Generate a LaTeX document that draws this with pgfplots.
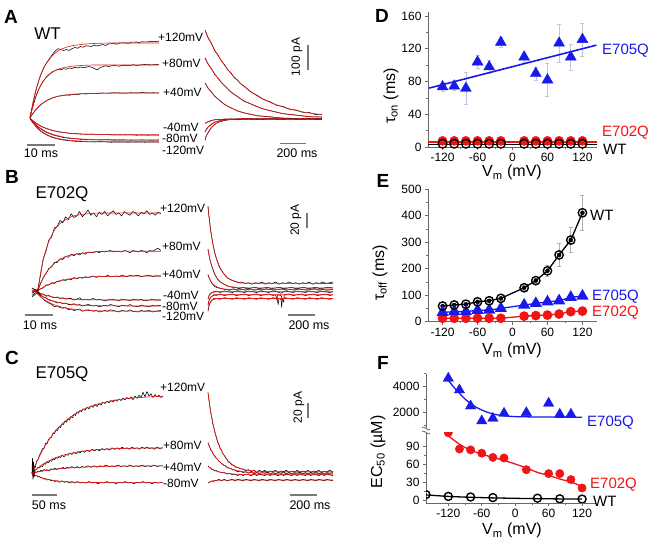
\documentclass[border=0pt]{standalone}
\usepackage{fontspec}
\setmainfont{Liberation Sans}
\usepackage{pgfplots}
\pgfplotsset{compat=1.18}
\definecolor{mred}{RGB}{240,20,20}
\definecolor{mblue}{RGB}{25,25,235}
\definecolor{axgray}{RGB}{105,105,105}
\definecolor{barg}{RGB}{120,120,120}
\definecolor{errd}{RGB}{195,195,225}
\definecolor{erre}{RGB}{175,175,175}
\newcommand\fs[1]{\fontsize{#1}{#1}\selectfont}
\pgfplotsset{
 trace/.style={hide axis, scale only axis, clip=false, anchor=south west},
 blk/.style={black, line width=0.55pt, line join=round},
 fit/.style={mred, line width=0.6pt, smooth},
 dax/.style={scale only axis, anchor=south west,
   axis line style={axgray, line width=0.8pt, -}, tick align=outside,
   major tick length=3pt, minor tick length=1.8pt,
   tick style={axgray, line width=0.8pt},
   tick label style={font=\fs{12}},
   /pgf/number format/assume math mode=true, /pgf/number format/1000 sep={},
   scaled ticks=false, clip=false,
   minor y tick num=1},
 dxy/.style={dax, axis lines*=left, xtick={-120,-60,0,60,120}, minor x tick num=1},
}
\begin{document}
\begin{tikzpicture}[x=1pt,y=1pt]
\useasboundingbox (0,0) rectangle (657,546);

% ===================== Panel A =====================
\begin{axis}[trace, at={(24.4pt,398pt)}, width=140pt, height=120pt, xmin=-2, xmax=48, ymin=-120, ymax=360]
\addplot[blk] coordinates {(0,2) (1,55) (2,105) (3,145) (4,178) (5,203) (6,222) (7,238) (8,254) (9,268) (10,277) (11,274) (12,270) (13,274) (14,270) (15,277) (16,282) (17,279) (18,286) (19,283) (20,289) (22,286) (23,292) (24,288) (26,294) (27,290) (28,296) (30,298) (31,295) (32,300) (34,301) (35,298) (36,303) (38,304) (39,301) (40,305) (42,304) (43,307) (44,305) (46,307)};
\addplot[fit] coordinates {(0,0) (1,60) (2,108) (3,146) (4,177) (5,201) (6,221) (8,249) (10,268) (12,279) (15,289) (20,296) (25,299) (30,300) (46,300)};
\addplot[blk] coordinates {(0,3) (1,45) (2,82) (3,112) (4,135) (5,152) (6,166) (7,176) (8,185) (9,190) (10,194) (11,193) (12,197) (13,195) (14,200) (15,198) (16,203) (17,200) (18,204) (19,201) (20,203) (21,206) (22,203) (23,198) (24,192) (25,201) (27,209) (28,206) (30,210) (32,207) (33,211) (35,209) (37,213) (38,210) (40,213) (42,215) (43,212) (45,214) (46,213)};
\addplot[fit] coordinates {(0,0) (1,47) (2,83) (3,112) (4,134) (5,151) (6,165) (8,183) (10,195) (12,201) (15,207) (20,211) (25,212) (46,212)};
\addplot[blk] coordinates {(0,2) (1,17) (2,32) (3,44) (4,55) (5,62) (6,70) (7,75) (8,80) (9,84) (10,87) (12,90) (13,92) (14,91) (16,95) (17,93) (18,97) (20,96) (22,99) (24,98) (26,100) (28,99) (30,101) (32,100) (34,99) (36,101) (38,100) (40,102) (42,100) (44,101) (46,100)};
\addplot[fit] coordinates {(0,0) (1,18) (2,33) (3,45) (4,55) (5,63) (6,70) (8,80) (10,87) (12,91) (15,95) (20,98) (25,99) (30,100) (46,100)};
\addplot[blk] coordinates {(0,-2) (1,-11) (2,-20) (3,-27) (4,-34) (5,-38) (6,-43) (8,-50) (10,-55) (12,-58) (14,-61) (16,-62) (18,-64) (20,-65) (22,-64) (24,-66) (26,-67) (28,-66) (30,-68) (32,-67) (34,-68) (36,-67) (38,-69) (40,-68) (42,-69) (44,-68) (46,-69)};
\addplot[fit] coordinates {(0,0) (1,-10) (2,-19) (3,-26) (4,-33) (5,-38) (6,-42) (8,-49) (10,-54) (12,-58) (15,-62) (20,-65) (25,-66) (30,-67) (46,-67)};
\addplot[blk] coordinates {(0,-3) (1,-15) (2,-27) (3,-37) (4,-45) (5,-52) (6,-58) (8,-67) (10,-73) (12,-78) (14,-81) (16,-83) (18,-85) (20,-86) (22,-87) (25,-88) (28,-87) (30,-89) (33,-88) (36,-89) (40,-88) (43,-89) (46,-88)};
\addplot[fit] coordinates {(0,0) (1,-14) (2,-25) (3,-35) (4,-43) (5,-50) (6,-56) (8,-65) (10,-71) (12,-76) (15,-81) (20,-85) (25,-87) (30,-87) (46,-88)};
\addplot[blk] coordinates {(0,-3) (1,-19) (2,-33) (3,-45) (4,-54) (5,-62) (6,-68) (8,-78) (10,-84) (12,-88) (14,-91) (16,-93) (18,-94) (20,-95) (23,-96) (26,-95) (29,-97) (32,-96) (35,-97) (38,-96) (41,-97) (44,-96) (46,-97)};
\addplot[fit] coordinates {(0,0) (1,-17) (2,-31) (3,-43) (4,-52) (5,-60) (6,-66) (8,-76) (10,-82) (12,-86) (15,-90) (20,-93) (25,-94) (30,-95) (46,-95)};
\end{axis}
\begin{axis}[trace, at={(205pt,398pt)}, width=117pt, height=120pt, xmin=0, xmax=900, ymin=-120, ymax=360]
\addplot[blk] coordinates {(0,352) (25,318) (50,299) (75,268) (100,253) (125,228) (150,214) (175,192) (200,181) (225,161) (250,152) (275,136) (300,128) (350,105) (400,91) (450,74) (500,65) (550,51) (600,46) (650,35) (700,32) (750,23) (800,22) (850,14) (900,15)};
\addplot[fit] coordinates {(0,350) (25,322) (50,296) (75,272) (100,250) (150,211) (200,178) (250,150) (300,126) (400,89) (500,63) (600,44) (700,30) (800,20) (900,14)};
\addplot[blk] coordinates {(0,241) (25,214) (50,197) (75,174) (100,160) (125,142) (150,130) (200,103) (250,86) (300,67) (350,57) (400,46) (450,36) (500,30) (600,17) (700,12) (800,5) (900,4)};
\addplot[fit] coordinates {(0,239) (25,216) (50,195) (75,176) (100,159) (150,129) (200,105) (250,85) (300,69) (400,45) (500,29) (600,18) (700,11) (800,6) (900,3)};
\addplot[blk] coordinates {(0,140) (25,118) (50,104) (75,87) (100,76) (150,54) (200,41) (250,28) (300,21) (400,9) (500,5) (600,-1) (700,-2) (800,-4) (900,-3)};
\addplot[fit] coordinates {(0,139) (25,119) (50,103) (75,88) (100,75) (150,55) (200,40) (250,29) (300,20) (400,10) (500,4) (600,0) (700,-2) (800,-3) (900,-3)};
\addplot[blk] coordinates {(0,-22) (10,-18) (25,-15) (50,-10) (75,-7) (100,-6) (150,-5) (200,-4) (250,-5) (300,-3) (350,-4) (400,-5) (450,-3) (500,-4) (550,-5) (600,-3) (650,-4) (700,-5) (750,-3) (800,-4) (850,-5) (900,-4)};
\addplot[fit] coordinates {(0,-21) (10,-18) (25,-14) (50,-10) (75,-7) (100,-6) (150,-5) (200,-4) (900,-4)};
\addplot[blk] coordinates {(0,-56) (10,-46) (25,-35) (50,-26) (75,-16) (100,-13) (150,-6) (200,-5) (250,-6) (300,-3) (350,-5) (400,-4) (450,-5) (500,-3) (550,-4) (600,-5) (650,-3) (700,-4) (750,-5) (800,-3) (850,-4) (900,-5)};
\addplot[fit] coordinates {(0,-55) (10,-46) (25,-36) (50,-25) (75,-17) (100,-12) (150,-7) (200,-5) (250,-5) (300,-4) (900,-4)};
\addplot[blk] coordinates {(0,-89) (10,-71) (25,-58) (50,-37) (75,-26) (100,-17) (150,-10) (200,-6) (250,-4) (300,-5) (350,-3) (400,-4) (450,-5) (500,-3) (550,-4) (600,-5) (650,-3) (700,-4) (750,-5) (800,-3) (850,-4) (900,-4)};
\addplot[fit] coordinates {(0,-88) (10,-72) (25,-57) (50,-38) (75,-25) (100,-18) (150,-9) (200,-6) (250,-5) (300,-4) (900,-4)};
\end{axis}
\node[font=\fs{17}] at (47.5,512) {WT};
\begin{scope}[font=\fs{12}, inner sep=0pt]
\node[anchor=west] at (158,509) {+120mV};
\node[anchor=west] at (162,483) {+80mV};
\node[anchor=west] at (163,454) {+40mV};
\node[anchor=west] at (163,419) {-40mV};
\node[anchor=west] at (162,408) {-80mV};
\node[anchor=west] at (162,396) {-120mV};
\end{scope}
\draw[barg, line width=1.2pt] (27,401) -- (55,401);
\node[font=\fs{12.5}] at (41,393) {10 ms};
\draw[barg, line width=1.2pt] (280,402.5) -- (306,402.5);
\node[font=\fs{12.5}] at (297,392.5) {200 ms};
\draw[barg, line width=1.2pt] (308,501) -- (308,476);
\node[font=\fs{12}, rotate=90] at (297,489) {100 pA};

% ===================== Panel B =====================
\begin{axis}[trace, at={(26.4pt,225pt)}, width=140pt, height=120pt, xmin=-2, xmax=48, ymin=-40, ymax=120]
\addplot[blk] coordinates {(0,4) (1,2) (2,1) (3,20) (4,43) (5,53) (6,68) (7,72) (8,84) (9,86) (10,94) (11,91) (12,99) (13,95) (14,103) (15,98) (16,100) (17,106) (18,99) (19,103) (20,108) (21,101) (22,104) (23,99) (24,105) (25,102) (26,106) (27,100) (28,104) (29,107) (30,102) (31,104) (32,100) (33,106) (34,103) (35,101) (36,106) (37,104) (38,100) (39,105) (40,103) (41,107) (42,102) (43,104) (44,101) (45,105) (46,103)};
\addplot[fit] coordinates {(0,0) (2,0) (3,23) (4,41) (5,55) (6,66) (7,74) (8,81) (9,86) (10,90) (12,95) (14,99) (16,101) (20,103) (25,104) (46,104)};
\addplot[blk] coordinates {(0,-2) (1,1) (2,1) (3,9) (4,18) (5,23) (6,30) (7,32) (8,38) (9,38) (10,43) (11,42) (12,46) (13,45) (14,49) (15,47) (16,50) (17,48) (18,51) (19,49) (20,52) (22,51) (23,53) (24,51) (25,53) (26,52) (28,54) (29,52) (30,53) (32,52) (33,54) (34,53) (35,51) (36,54) (38,52) (39,54) (40,53) (41,51) (42,54) (43,53) (44,55) (45,57) (46,54)};
\addplot[fit] coordinates {(0,0) (2,0) (3,10) (4,17) (5,24) (6,29) (7,33) (8,37) (10,42) (12,46) (14,48) (17,50) (22,52) (27,53) (46,53)};
\addplot[blk] coordinates {(0,3) (1,2) (2,0) (3,3) (4,4) (5,8) (6,8) (7,11) (8,10) (9,13) (10,13) (11,15) (12,14) (13,16) (14,15) (15,18) (16,16) (17,18) (18,17) (19,19) (20,18) (22,20) (23,18) (24,20) (26,19) (27,21) (28,19) (30,20) (31,19) (32,21) (34,19) (35,21) (36,20) (38,21) (39,19) (40,20) (42,21) (43,19) (44,20) (46,20)};
\addplot[fit] coordinates {(0,0) (2,0) (3,2.7) (4,5) (5,7) (6,8.7) (7,10.2) (8,11.5) (10,13.6) (12,15.2) (14,16.4) (17,17.7) (22,18.9) (27,19.4) (32,19.7) (46,20)};
\addplot[blk] coordinates {(0,-3) (1,-1) (2,0) (3,-4) (4,-4) (5,-7) (6,-6) (7,-8) (8,-9) (9,-8) (10,-10) (11,-9) (12,-11) (13,-10) (14,-10) (15,-12) (16,-11) (17,-9) (18,-12) (19,-11) (20,-12) (22,-10) (23,-12) (24,-11) (26,-13) (27,-12) (28,-11) (30,-12) (31,-13) (32,-11) (34,-12) (35,-13) (36,-11) (38,-12) (39,-11) (40,-13) (42,-12) (43,-11) (44,-12) (46,-12)};
\addplot[fit] coordinates {(0,0) (1,0) (2,-1.8) (3,-3.4) (4,-4.7) (5,-5.8) (7,-7.6) (9,-8.9) (11,-9.8) (14,-10.7) (18,-11.4) (23,-11.8) (30,-12) (46,-12)};
\addplot[blk] coordinates {(0,-6) (1,-3) (2,-1) (3,-5) (4,-8) (5,-9) (6,-12) (7,-13) (8,-14) (9,-16) (10,-15) (11,-17) (12,-16) (13,-18) (14,-18) (15,-17) (16,-19) (17,-18) (18,-20) (19,-19) (20,-18) (22,-20) (23,-19) (24,-21) (26,-19) (27,-20) (28,-18) (30,-20) (31,-21) (32,-19) (34,-20) (35,-18) (36,-20) (38,-21) (39,-19) (40,-20) (42,-21) (43,-19) (44,-20) (46,-19)};
\addplot[fit] coordinates {(0,0) (1,0) (2,-3.1) (3,-5.7) (4,-7.9) (5,-9.7) (7,-12.6) (9,-14.7) (11,-16.2) (14,-17.8) (18,-18.9) (23,-19.6) (30,-19.9) (46,-20)};
\addplot[blk] coordinates {(0,-8) (1,-5) (2,-2) (3,-7) (4,-11) (5,-14) (6,-16) (7,-18) (8,-21) (9,-20) (10,-22) (11,-23) (12,-22) (13,-25) (14,-24) (15,-26) (16,-25) (17,-24) (18,-27) (19,-26) (20,-25) (22,-27) (23,-26) (24,-28) (26,-26) (27,-27) (28,-25) (30,-27) (31,-28) (32,-26) (34,-27) (35,-25) (36,-27) (38,-28) (39,-26) (40,-27) (42,-26) (43,-28) (44,-27) (46,-26)};
\addplot[fit] coordinates {(0,0) (1,0) (2,-4.2) (3,-7.6) (4,-10.6) (5,-13.1) (7,-17) (9,-19.8) (11,-21.8) (14,-24) (18,-25.5) (23,-26.4) (30,-26.8) (46,-27)};
\end{axis}
\begin{axis}[trace, at={(208pt,225pt)}, width=125pt, height=120pt, xmin=0, xmax=925, ymin=-40, ymax=120]
\addplot[blk] coordinates {(0,113) (5,103) (10,96) (15,87) (20,80) (25,75) (30,70) (35,64) (40,60) (50,51) (60,45) (70,39) (80,35) (90,30) (100,28) (115,23) (130,21) (145,17) (160,16) (180,14) (200,13) (225,11) (250,12) (275,10) (300,11) (325,9) (350,11) (375,10) (400,12) (425,9) (450,11) (475,10) (500,12) (525,9) (550,11) (575,10) (600,12) (625,10) (650,11) (675,9) (700,11) (725,10) (750,12) (775,9) (800,11) (825,10) (850,12) (875,10) (900,11) (925,12)};
\addplot[fit] coordinates {(0,112) (10,95) (20,81) (30,69) (40,59) (60,44) (80,34) (100,27) (130,20) (160,15.6) (200,12.7) (250,11) (300,10.4) (925,10)};
\addplot[blk] coordinates {(0,56) (5,50) (10,46) (15,41) (20,38) (25,35) (30,32) (40,27) (50,22) (60,19) (70,16) (80,14) (90,12) (100,11) (120,9) (140,7) (160,6) (180,5) (200,5) (230,3) (260,5) (290,3) (320,4) (350,5) (380,3) (410,4) (440,5) (470,3) (500,4) (530,5) (560,3) (590,4) (620,5) (650,3) (680,4) (710,5) (740,3) (770,4) (800,5) (830,3) (860,4) (890,5) (925,4)};
\addplot[fit] coordinates {(0,55) (10,46) (20,38) (30,32) (40,27) (60,19) (80,14) (100,11) (130,8) (160,6) (200,5) (250,4.3) (925,4)};
\addplot[blk] coordinates {(0,22) (5,19) (10,17) (20,13) (30,10) (40,8) (50,6) (60,5) (80,4) (100,3) (130,2) (160,1) (190,3) (220,1) (250,2) (280,1) (310,3) (340,1) (370,2) (400,1) (430,3) (460,2) (490,1) (520,2) (550,3) (580,1) (610,2) (640,1) (670,3) (700,2) (730,1) (760,2) (790,3) (820,1) (850,2) (880,1) (925,2)};
\addplot[fit] coordinates {(0,21) (10,16.6) (20,13.3) (30,10.8) (40,8.8) (60,6.0) (80,4.4) (100,3.4) (130,2.5) (160,2.1) (200,1.9) (925,1.8)};
\addplot[blk] coordinates {(0,-11) (5,-8) (10,-5) (20,-3) (30,-2) (45,-1) (60,0) (90,-2) (120,0) (150,-1) (180,-2) (210,0) (240,-1) (270,-2) (300,0) (330,-1) (360,-2) (390,0) (420,-1) (450,-2) (480,0) (510,-1) (540,-3) (570,0) (600,-1) (630,-2) (660,0) (690,-1) (720,-2) (750,0) (780,-1) (810,-2) (840,0) (870,-1) (900,-2) (925,-1)};
\addplot[fit] coordinates {(0,-10) (5,-7.5) (10,-5.6) (20,-3.4) (30,-2.2) (45,-1.5) (60,-1.2) (100,-1) (925,-1)};
\addplot[blk] coordinates {(0,-19) (5,-15) (10,-12) (20,-8) (30,-7) (45,-5) (60,-6) (90,-4) (120,-6) (150,-5) (180,-4) (210,-6) (240,-5) (270,-4) (300,-6) (330,-5) (360,-4) (390,-6) (420,-5) (450,-4) (480,-6) (500,-5) (510,-12) (515,-5) (540,-6) (560,-15) (565,-5) (600,-4) (630,-6) (660,-5) (690,-4) (720,-6) (750,-5) (780,-4) (810,-6) (840,-5) (870,-4) (900,-6) (925,-5)};
\addplot[fit] coordinates {(0,-18) (5,-14.3) (10,-11.7) (20,-8.4) (30,-6.8) (45,-5.6) (60,-5.2) (100,-5) (925,-5)};
\addplot[blk] coordinates {(0,-27) (5,-22) (10,-18) (20,-14) (30,-12) (45,-11) (60,-10) (90,-11) (120,-9) (150,-10) (180,-11) (210,-9) (240,-10) (270,-11) (300,-9) (330,-10) (360,-11) (390,-9) (420,-10) (450,-11) (480,-9) (510,-10) (520,-18) (525,-10) (540,-11) (545,-22) (550,-10) (570,-9) (600,-10) (630,-11) (660,-9) (690,-10) (720,-11) (750,-9) (780,-10) (810,-11) (840,-9) (870,-10) (900,-11) (925,-10)};
\addplot[fit] coordinates {(0,-26) (5,-21.5) (10,-18.2) (20,-14.2) (30,-12.2) (45,-10.8) (60,-10.3) (100,-10) (925,-10)};
\end{axis}
\node[font=\fs{17}] at (62,352) {E702Q};
\begin{scope}[font=\fs{12}, inner sep=0pt]
\node[anchor=west] at (160,338) {+120mV};
\node[anchor=west] at (162,299.3) {+80mV};
\node[anchor=west] at (162,272) {+40mV};
\node[anchor=west] at (163,251) {-40mV};
\node[anchor=west] at (162,240) {-80mV};
\node[anchor=west] at (162,229.3) {-120mV};
\end{scope}
\draw[barg, line width=1.2pt] (25,231) -- (53,231);
\node[font=\fs{12.5}] at (40,221) {10 ms};
\draw[barg, line width=1.2pt] (288,231) -- (315,231);
\node[font=\fs{12.5}] at (309,221) {200 ms};
\draw[barg, line width=1.2pt] (307,333) -- (307,318);
\node[font=\fs{12}, rotate=90] at (296,326) {20 pA};

% ===================== Panel C =====================
\begin{axis}[trace, at={(27pt,50.2pt)}, width=140pt, height=112.5pt, xmin=-10, xmax=270, ymin=-30, ymax=120]
\addplot[blk] coordinates {(0,0) (1,20) (2,-8) (3,15) (4,-5) (5,10) (7,8) (9,16) (12,18) (15,24) (18,28) (21,33) (24,33) (27,40) (30,39) (33,45) (36,47) (39,48) (42,54) (45,53) (48,58) (51,57) (54,62) (57,61) (60,66) (63,65) (66,70) (69,68) (72,73) (75,71) (78,76) (81,74) (84,79) (87,77) (90,82) (93,80) (96,84) (99,82) (102,86) (106,84) (110,88) (114,86) (118,90) (122,88) (126,92) (130,89) (134,93) (138,91) (142,95) (146,93) (150,96) (154,94) (158,97) (162,95) (166,98) (170,96) (174,99) (178,97) (182,100) (186,98) (190,101) (194,99) (198,102) (202,98) (206,103) (210,100) (214,104) (218,101) (222,108) (226,102) (230,109) (234,103) (238,106) (242,101) (246,105) (250,102) (254,104) (258,101) (262,103)};
\addplot[fit] coordinates {(0,0) (10,16) (20,29.4) (30,40.9) (45,54.9) (60,65.7) (80,76.5) (100,84.4) (125,91) (150,95.5) (175,98.4) (200,100.3) (230,101.7) (262,102.7)};
\addplot[blk] coordinates {(0,0) (2,6) (4,-3) (6,4) (9,5) (12,8) (15,7) (18,10) (21,9) (24,13) (27,12) (30,15) (33,14) (36,17) (39,16) (42,19) (45,18) (48,21) (51,20) (54,22) (57,21) (60,24) (64,22) (68,25) (72,24) (76,27) (80,25) (84,28) (88,26) (92,29) (96,27) (100,30) (105,28) (110,31) (115,29) (120,32) (125,30) (130,32) (135,30) (140,33) (145,31) (150,33) (155,31) (160,34) (165,32) (170,34) (175,32) (180,35) (185,33) (190,34) (195,32) (200,35) (205,33) (210,34) (215,32) (220,35) (225,33) (230,35) (235,33) (240,34) (245,32) (250,35) (255,33) (262,34)};
\addplot[fit] coordinates {(0,0) (10,6.2) (20,11.2) (30,15.3) (45,20.2) (60,23.8) (80,27.1) (100,29.4) (125,31.2) (150,32.3) (175,33) (200,33.4) (230,33.7) (262,33.8)};
\addplot[blk] coordinates {(0,0) (2,5) (4,-4) (6,2) (9,1) (12,3) (15,2) (18,4) (21,3) (24,5) (27,4) (30,5) (34,3) (38,6) (42,5) (46,7) (50,5) (54,7) (58,6) (62,8) (66,6) (70,8) (75,7) (80,9) (85,7) (90,9) (95,7) (100,9) (106,8) (112,10) (118,8) (124,10) (130,8) (136,10) (142,9) (148,11) (154,9) (160,10) (166,9) (172,11) (178,9) (184,10) (190,9) (196,11) (202,9) (208,10) (214,9) (220,11) (226,9) (232,10) (238,9) (244,11) (250,9) (256,10) (262,10)};
\addplot[fit] coordinates {(0,0) (10,1.5) (20,2.8) (30,3.9) (45,5.3) (60,6.3) (80,7.4) (100,8.1) (125,8.8) (150,9.2) (175,9.5) (200,9.6) (230,9.8) (262,9.9)};
\addplot[blk] coordinates {(0,0) (2,-4) (4,-2) (6,-3) (9,-3) (12,-5) (15,-4) (18,-6) (21,-6) (24,-8) (27,-7) (30,-9) (34,-8) (38,-10) (42,-9) (46,-11) (50,-10) (55,-12) (60,-10) (65,-12) (70,-11) (75,-13) (80,-11) (85,-13) (90,-11) (96,-13) (102,-12) (108,-13) (114,-11) (120,-13) (126,-12) (132,-14) (138,-12) (144,-13) (150,-11) (156,-13) (162,-12) (168,-14) (174,-12) (180,-13) (186,-11) (192,-13) (198,-12) (204,-14) (210,-12) (216,-13) (222,-11) (228,-13) (234,-12) (240,-14) (246,-12) (252,-13) (262,-12)};
\addplot[fit] coordinates {(0,0) (10,-3.5) (20,-6.1) (30,-7.9) (45,-9.7) (60,-10.8) (80,-11.6) (100,-12) (150,-12.4) (262,-12.5)};
\end{axis}
\begin{axis}[trace, at={(208pt,50.2pt)}, width=125pt, height=112.5pt, xmin=0, xmax=925, ymin=-30, ymax=120]
\addplot[blk] coordinates {(0,108) (5,100) (10,95) (15,87) (20,83) (25,76) (30,73) (35,66) (40,63) (45,59) (50,56) (55,51) (60,50) (70,42) (80,39) (90,33) (100,31) (110,26) (120,24) (130,21) (140,19) (150,15) (160,15) (175,11) (190,11) (205,8) (220,8) (240,6) (260,6) (280,3) (300,5) (320,2) (340,4) (360,1) (380,4) (400,2) (420,4) (440,1) (460,3) (480,2) (500,4) (520,1) (540,3) (560,2) (580,4) (600,1) (620,3) (640,2) (660,4) (680,1) (700,3) (720,2) (740,4) (760,1) (780,3) (800,2) (820,4) (840,1) (860,3) (880,2) (900,4) (925,2)};
\addplot[fit] coordinates {(0,107) (10,94) (20,82) (30,72) (45,60) (60,49) (80,38) (100,30) (130,20.6) (160,14.4) (200,9.3) (250,5.8) (300,3.9) (400,2.5) (500,2.1) (925,2)};
\addplot[blk] coordinates {(0,41) (5,38) (10,37) (20,31) (30,29) (40,25) (50,23) (60,20) (70,19) (80,16) (90,15) (100,13) (115,11) (130,10) (145,7) (160,7) (180,5) (200,4) (220,2) (240,3) (260,1) (280,2) (300,0) (320,2) (340,-1) (360,1) (380,-1) (400,1) (420,0) (440,2) (460,-1) (480,1) (500,-1) (520,1) (540,0) (560,2) (580,-1) (600,1) (620,-1) (640,1) (660,0) (680,2) (700,-1) (720,1) (740,-1) (760,1) (780,0) (800,2) (820,-1) (840,1) (860,-1) (880,1) (900,0) (925,1)};
\addplot[fit] coordinates {(0,40) (10,35.8) (20,32) (30,28.7) (45,24.3) (60,20.5) (80,16.4) (100,13.2) (130,9.4) (160,6.8) (200,4.3) (250,2.5) (300,1.4) (400,0.5) (500,0.2) (925,0)};
\addplot[blk] coordinates {(0,10) (10,8) (20,7) (30,5) (40,5) (50,3) (60,4) (70,2) (80,2) (100,1) (120,1) (140,-1) (160,0) (180,-2) (200,-1) (220,-3) (240,-1) (260,-3) (280,-1) (300,-2) (320,-3) (340,-1) (360,-3) (380,-1) (400,-2) (420,-3) (440,-1) (460,-3) (480,-1) (500,-2) (520,-3) (540,-1) (560,-3) (580,-1) (600,-2) (620,-3) (640,-1) (660,-3) (680,-1) (700,-2) (720,-3) (740,-1) (760,-3) (780,-1) (800,-2) (820,-3) (840,-1) (860,-3) (880,-1) (900,-2) (925,-3)};
\addplot[fit] coordinates {(0,9) (20,6.6) (40,4.7) (60,3.2) (80,2) (120,0.5) (160,-0.5) (200,-1.1) (300,-1.7) (400,-1.9) (925,-2)};
\addplot[blk] coordinates {(0,-13) (10,-12) (20,-11) (30,-10) (40,-11) (50,-9) (60,-10) (80,-8) (100,-10) (120,-8) (140,-10) (160,-9) (180,-8) (200,-10) (220,-8) (240,-9) (260,-10) (280,-8) (300,-9) (320,-10) (340,-8) (360,-9) (380,-10) (400,-8) (420,-9) (440,-10) (460,-8) (480,-9) (500,-10) (520,-8) (540,-9) (560,-10) (580,-8) (600,-9) (620,-10) (640,-8) (660,-9) (680,-10) (700,-8) (720,-9) (740,-10) (760,-8) (780,-9) (800,-10) (820,-8) (840,-9) (860,-10) (880,-8) (900,-9) (925,-10)};
\addplot[fit] coordinates {(0,-13) (20,-11) (40,-10) (60,-9.5) (100,-9.1) (200,-9) (925,-9)};
\end{axis}
\node[font=\fs{17}] at (62,172) {E705Q};
\begin{scope}[font=\fs{12}, inner sep=0pt]
\node[anchor=west] at (160,158.5) {+120mV};
\node[anchor=west] at (163,101) {+80mV};
\node[anchor=west] at (163,79) {+40mV};
\node[anchor=west] at (163,62.3) {-80mV};
\end{scope}
\draw[barg, line width=1.2pt] (32,51) -- (57,51);
\node[font=\fs{12.5}] at (49,40.3) {50 ms};
\draw[barg, line width=1.2pt] (290,51) -- (317,51);
\node[font=\fs{12.5}] at (310,40.3) {200 ms};
\draw[barg, line width=1.2pt] (308,143) -- (308,128);
\node[font=\fs{12}, rotate=90] at (299,138.5) {20 pA};

% ===================== Panel D =====================
\begin{axis}[dxy, at={(428pt,399pt)}, width=169pt, height=135pt, xmin=-145, xmax=145, ymin=0, ymax=165, ytick={0,40,80,120,160}]
\addplot[only marks, mark=none, error bars/.cd, y dir=both, y explicit, error bar style={errd, line width=0.6pt}, error mark=-, error mark options={rotate=90, errd, mark size=2pt}] coordinates {
(-120,73.6) +- (0,5) (-100,74.5) +- (0,5) (-80,71.7) +- (0,20) (-60,104) +- (0,8) (-40,98) +- (0,8) (-20,128) +- (0,6) (20,110) +- (0,6) (40,90) +- (0,8) (60,82) +- (0,20) (80,127) +- (0,23) (100,110) +- (0,16) (120,131.5) +- (0,20)};
\addplot[mblue, line width=1.6pt] coordinates {(-143,72) (144,124.5)};
\addplot[only marks, mark=triangle*, mark size=6.3pt, mark options={draw=mblue, fill=mblue}] coordinates {(-120,73.6) (-100,74.5) (-80,71.7) (-60,104) (-40,98) (-20,128) (20,110) (40,90) (60,82) (80,127) (100,110) (120,131.5)};
\addplot[only marks, mark=*, mark size=4.6pt, mark options={draw=mred, fill=mred}] coordinates {(-120,7.5) (-100,7.5) (-80,7.5) (-60,7.5) (-40,7.5) (-20,7.5) (20,7.5) (40,7.5) (60,7.5) (80,7.5) (100,7.5) (120,7.5)};
\addplot[only marks, mark=o, mark size=4.4pt, mark options={draw=black, fill=white, line width=1.3pt}] coordinates {(-120,4) (-100,4) (-80,4) (-60,4) (-40,4) (-20,4) (20,4) (40,4) (60,4) (80,4) (100,4) (120,4)};
\addplot[mred, line width=1.6pt] coordinates {(-145,6) (145,6)};
\addplot[black, line width=1.6pt] coordinates {(-145,3) (145,3)};
\end{axis}
\node[font=\fs{15}, text=mblue, anchor=west, inner sep=0pt] at (602,495) {E705Q};
\node[font=\fs{15}, text=mred, anchor=west, inner sep=0pt] at (602,413) {E702Q};
\node[font=\fs{15}, anchor=west, inner sep=0pt] at (603,397) {WT};
\node[font=\fs{16}, rotate=90] at (391,450) {τ\textsubscript{on} (ms)};
\node[font=\fs{16}, anchor=base] at (512,369) {V\textsubscript{m} (mV)};

% ===================== Panel E =====================
\begin{axis}[dxy, at={(428pt,224.3pt)}, width=169pt, height=132.5pt, xmin=-145, xmax=145, ymin=0, ymax=500, ytick={0,100,...,500}]
\addplot[only marks, mark=none, error bars/.cd, y dir=both, y explicit, error bar style={erre, line width=0.6pt}, error mark=-, error mark options={rotate=90, erre, mark size=2pt}] coordinates {
(-120,59) +- (0,5) (-100,63) +- (0,5) (-80,66) +- (0,5) (-60,75) +- (0,5) (-40,79) +- (0,5) (-20,88) +- (0,6) (20,128) +- (0,8) (40,155) +- (0,10) (60,192) +- (0,22) (80,252) +- (0,44) (100,308) +- (0,47) (120,411) +- (0,65)};
\addplot[mred, line width=1.3pt, mark=*, mark size=4.2pt, mark options={draw=mred, fill=mred}] coordinates {(-120,13) (-100,13) (-80,13) (-60,13) (-40,13) (-20,13) (20,21) (40,23) (60,25) (80,29) (100,38) (120,40)};
\addplot[mblue, line width=1.3pt, mark=triangle*, mark size=5.8pt, mark options={draw=mblue, fill=mblue}] coordinates {(-120,35) (-100,38) (-80,38) (-60,43) (-40,44) (-20,50) (20,63) (40,69) (60,75) (80,79) (100,92) (120,97)};
\addplot[black, line width=1.3pt, mark=o, mark size=4.2pt, mark options={draw=black, fill=white, line width=1.4pt}] coordinates {(-120,59) (-100,63) (-80,66) (-60,75) (-40,79) (-20,88) (20,128) (40,155) (60,192) (80,252) (100,308) (120,411)};
\end{axis}
\node[font=\fs{15}, anchor=west, inner sep=0pt] at (590,331) {WT};
\node[font=\fs{15}, text=mblue, anchor=west, inner sep=0pt] at (592,249) {E705Q};
\node[font=\fs{15}, text=mred, anchor=west, inner sep=0pt] at (592,233) {E702Q};
\node[font=\fs{16}, rotate=90] at (380,273) {τ\textsubscript{off} (ms)};
\node[font=\fs{16}, anchor=base] at (512,191) {V\textsubscript{m} (mV)};

% ===================== Panel F =====================
\begin{axis}[dax, axis x line=none, axis y line*=left, at={(426pt,117.7pt)}, width=170pt, height=54.6pt, xmin=-160, xmax=145, ymin=800, ymax=5000, ytick={2000,4000}, minor ytick={1000,3000,5000}]
\addplot[mblue, line width=1.3pt, smooth] coordinates {(-120,4500) (-110,3950) (-100,3500) (-90,3050) (-80,2720) (-70,2420) (-60,2210) (-50,2040) (-40,1910) (-30,1820) (-20,1760) (0,1700) (40,1670) (80,1660) (120,1655)};
\addplot[only marks, mark=triangle*, mark size=6pt, mark options={draw=mblue, fill=mblue}] coordinates {(-120,4646) (-100,3746) (-80,2515) (-60,1362) (-40,1570) (-20,1954) (20,2000) (60,2723) (80,1877) (100,1877)};
\end{axis}
\begin{axis}[dxy, clip=true, clip marker paths=true, at={(426pt,43pt)}, width=170pt, height=70.2pt, xmin=-160, xmax=145, ymin=-5, ymax=112, ytick={0,30,60,90}]
\addplot[black, line width=1.3pt, smooth] coordinates {(-160,8.5) (-120,6) (-80,4.5) (-40,3.5) (0,2.8) (40,2.2) (80,1.8) (120,1.5)};
\addplot[only marks, mark=o, mark size=4pt, mark options={draw=black, fill=white, line width=1.4pt}] coordinates {(-160,9) (-120,6) (-80,5) (-40,4) (40,3) (80,2) (120,1.5)};
\addplot[mred, line width=1.3pt, smooth] coordinates {(-120,107) (-100,93) (-80,83) (-60,76.5) (-40,71) (-20,66) (0,60) (20,53.5) (40,46) (60,41) (80,35) (100,30) (120,22.6)};
\addplot[only marks, mark=*, mark size=4.2pt, mark options={draw=mred, fill=mred}] coordinates {(-120,112) (-100,85) (-80,83.5) (-60,78) (-40,71) (-20,70) (20,50.5) (60,44) (80,44) (100,34) (120,20)};
\end{axis}
\draw[axgray, line width=0.8pt] (422,118.5) .. controls (424,121) and (428,114) .. (430,116.5);
\draw[axgray, line width=0.8pt] (422,114.5) .. controls (424,117) and (428,110) .. (430,112.5);
\node[font=\fs{15}, text=mblue, anchor=west, inner sep=0pt] at (587,123) {E705Q};
\node[font=\fs{15}, text=mred, anchor=west, inner sep=0pt] at (590,61) {E702Q};
\node[font=\fs{15}, anchor=west, inner sep=0pt] at (593,44.3) {WT};
\node[font=\fs{16}, rotate=90] at (378,94) {EC\textsubscript{50} (µM)};
\node[font=\fs{16}, anchor=base] at (512,11) {V\textsubscript{m} (mV)};

% ===================== Panel letters =====================
\begin{scope}[font=\bfseries\fs{19}]
\node at (11,529) {A};
\node at (382,530) {D};
\node at (12,369) {B};
\node at (383,365) {E};
\node at (12,188) {C};
\node at (383,183) {F};
\end{scope}
\end{tikzpicture}
\end{document}
